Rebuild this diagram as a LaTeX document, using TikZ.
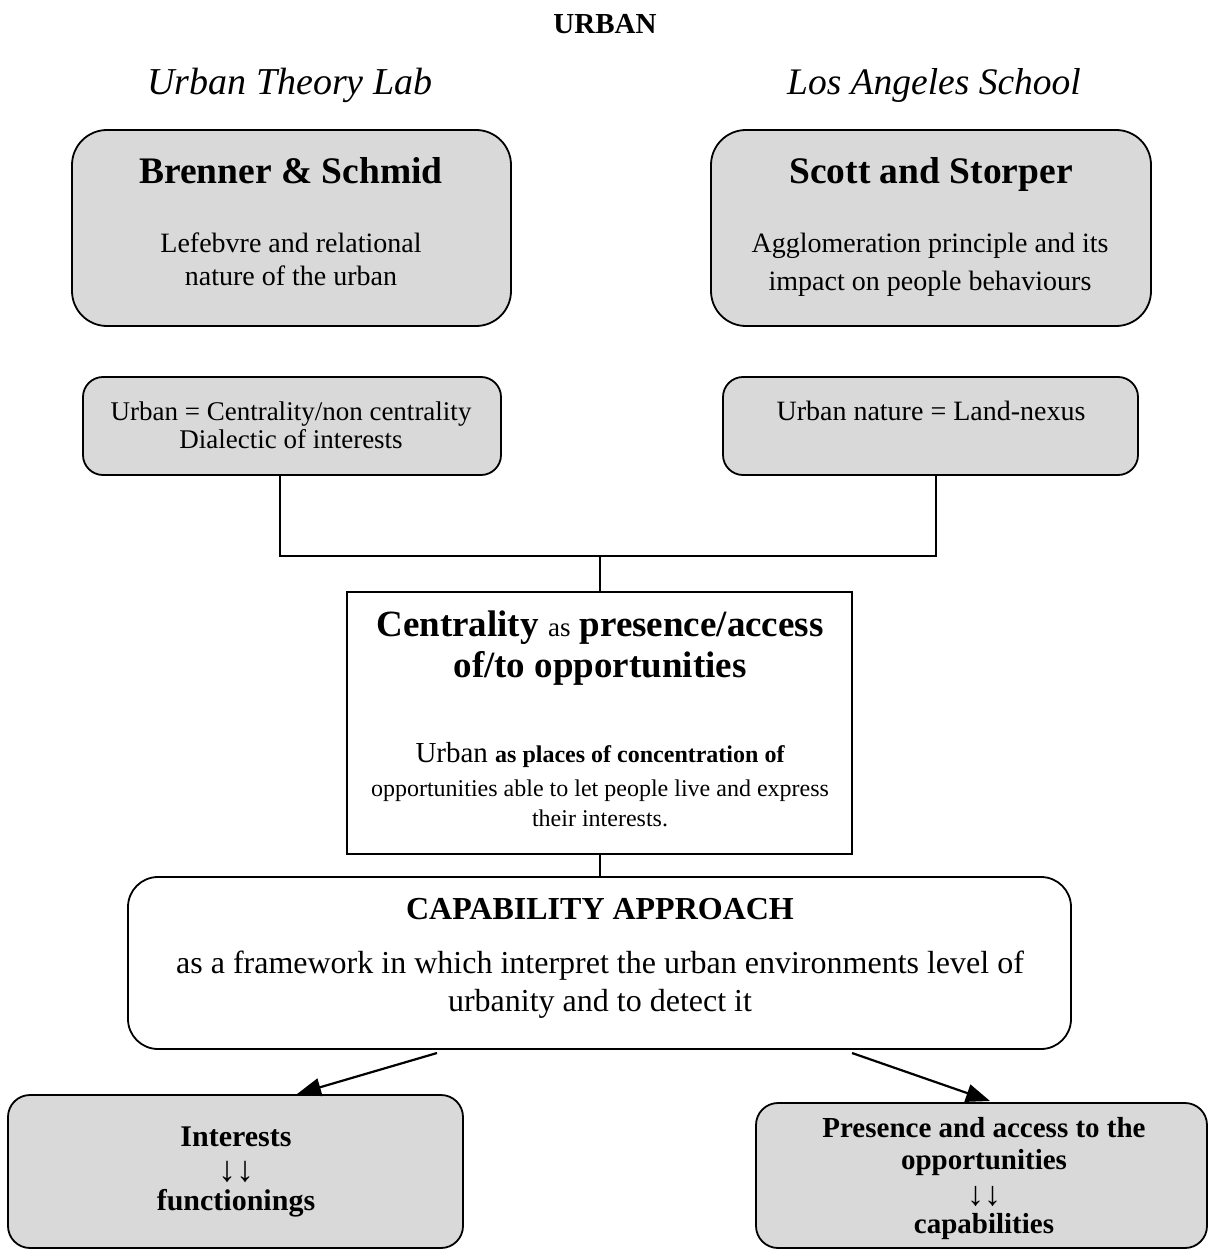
\documentclass[tikz,border=0pt]{standalone}
\usepackage{fontspec}
\setmainfont{Liberation Serif}
\usetikzlibrary{arrows.meta}

\definecolor{boxgrey}{RGB}{217,217,217}
\newcommand\fsz[1]{\fontsize{#1}{#1}\selectfont}

\begin{document}
\begin{tikzpicture}[x=1pt,y=-1pt,
  box/.style={draw=black, line width=1.8pt, inner sep=0pt, outer sep=0pt},
  greybox/.style={box, fill=boxgrey},
  txt/.style={inner sep=0pt, anchor=base, align=center},
  link/.style={line width=2pt},
  arr/.style={line width=2.2pt, -{Triangle[length=24pt,width=18pt]}}
]
\useasboundingbox (0,0) rectangle (1209,1249);

% headings
\node[txt, font=\bfseries\fsz{29}] (title) at (605,34) {URBAN};
\node[txt, font=\itshape\fsz{38}] (utl) at (290,95) {Urban Theory Lab};
\node[txt, font=\itshape\fsz{37.5}] (las) at (934,95) {Los Angeles School};

% two schools
\node[greybox, rounded corners=35pt, minimum width=439pt, minimum height=196pt] (bs) at (291.5,228) {};
\node[greybox, rounded corners=35pt, minimum width=440pt, minimum height=196pt] (ss) at (931,228) {};
\node[txt, font=\bfseries\fsz{37.5}] (bsT) at (291,184) {Brenner \& Schmid};
\node[txt, font=\fsz{28}] (bsA) at (291,252) {Lefebvre and relational};
\node[txt, font=\fsz{28}] (bsB) at (291,285) {nature of the urban};
\node[txt, font=\bfseries\fsz{37.5}] (ssT) at (931,184) {Scott and Storper};
\node[txt, font=\fsz{28}] (ssA) at (930,252) {Agglomeration principle and its};
\node[txt, font=\fsz{28}] (ssB) at (930,290) {impact on people behaviours};

% definitions of the urban
\node[greybox, rounded corners=20pt, minimum width=418pt, minimum height=98pt] (uc) at (292,426) {};
\node[greybox, rounded corners=20pt, minimum width=415pt, minimum height=98pt] (un) at (930.5,426) {};
\node[txt, font=\fsz{27}] (ucA) at (291,420) {Urban = Centrality/non centrality};
\node[txt, font=\fsz{27}] (ucB) at (291,448) {Dialectic of interests};
\node[txt, font=\fsz{28}] (unA) at (931,420) {Urban nature = Land-nexus};

% centrality
\node[box, fill=white, minimum width=505pt, minimum height=262pt] (cen) at (599.5,723) {};
\node[txt, font=\fsz{37}] (cenA) at (600,636) {\textbf{Centrality} {\fsz{27}as} \textbf{presence/access}};
\node[txt, font=\bfseries\fsz{37}] (cenB) at (600,677) {of/to opportunities};
\node[txt, font=\fsz{29}] (cenC) at (600,762) {Urban {\bfseries\fsz{24}as places of concentration of}};
\node[txt, font=\fsz{24}] (cenD) at (600,796) {opportunities able to let people live and express};
\node[txt, font=\fsz{24}] (cenE) at (600,826) {their interests.};

% capability approach
\node[box, fill=white, rounded corners=30pt, minimum width=943pt, minimum height=172pt] (cap) at (599.5,963) {};
\node[txt, font=\bfseries\fsz{32}] (capA) at (600,919) {CAPABILITY APPROACH};
\node[txt, font=\fsz{32}] (capB) at (600,973) {as a framework in which interpret the urban environments level of};
\node[txt, font=\fsz{32}] (capC) at (600,1011) {urbanity and to detect it};

% outcomes
\node[greybox, rounded corners=22pt, minimum width=455pt, minimum height=153pt] (fun) at (235.5,1171.5) {};
\node[greybox, rounded corners=22pt, minimum width=451pt, minimum height=145pt] (opp) at (981.5,1175.5) {};
\node[txt, font=\bfseries\fsz{30}] (funA) at (236,1146) {Interests};
\node[txt, font=\fsz{36}] (funB) at (236,1181) {↓↓};
\node[txt, font=\bfseries\fsz{30}] (funC) at (236,1210) {functionings};
\node[txt, font=\bfseries\fsz{29}] (oppA) at (984,1137) {Presence and access to the};
\node[txt, font=\bfseries\fsz{29}] (oppB) at (984,1169) {opportunities};
\node[txt, font=\fsz{34}] (oppC) at (984,1205) {↓↓};
\node[txt, font=\bfseries\fsz{29}] (oppD) at (984,1233) {capabilities};

% connectors
\coordinate (jl) at (280,556);
\coordinate (jr) at (936,556);
\draw[link] (uc.south -| jl) -- (jl) -- (jr) -- (un.south -| jr);
\draw[link] (cen.north) -- (cen.north |- jl);
\draw[link] (cen.south) -- (cap.north);

\coordinate (al) at (437,1053);
\coordinate (alt) at (297,1094);
\coordinate (ar) at (852,1053);
\coordinate (art) at (990,1101);
\draw[arr] (al) -- (alt);
\draw[arr] (ar) -- (art);
\end{tikzpicture}
\end{document}
